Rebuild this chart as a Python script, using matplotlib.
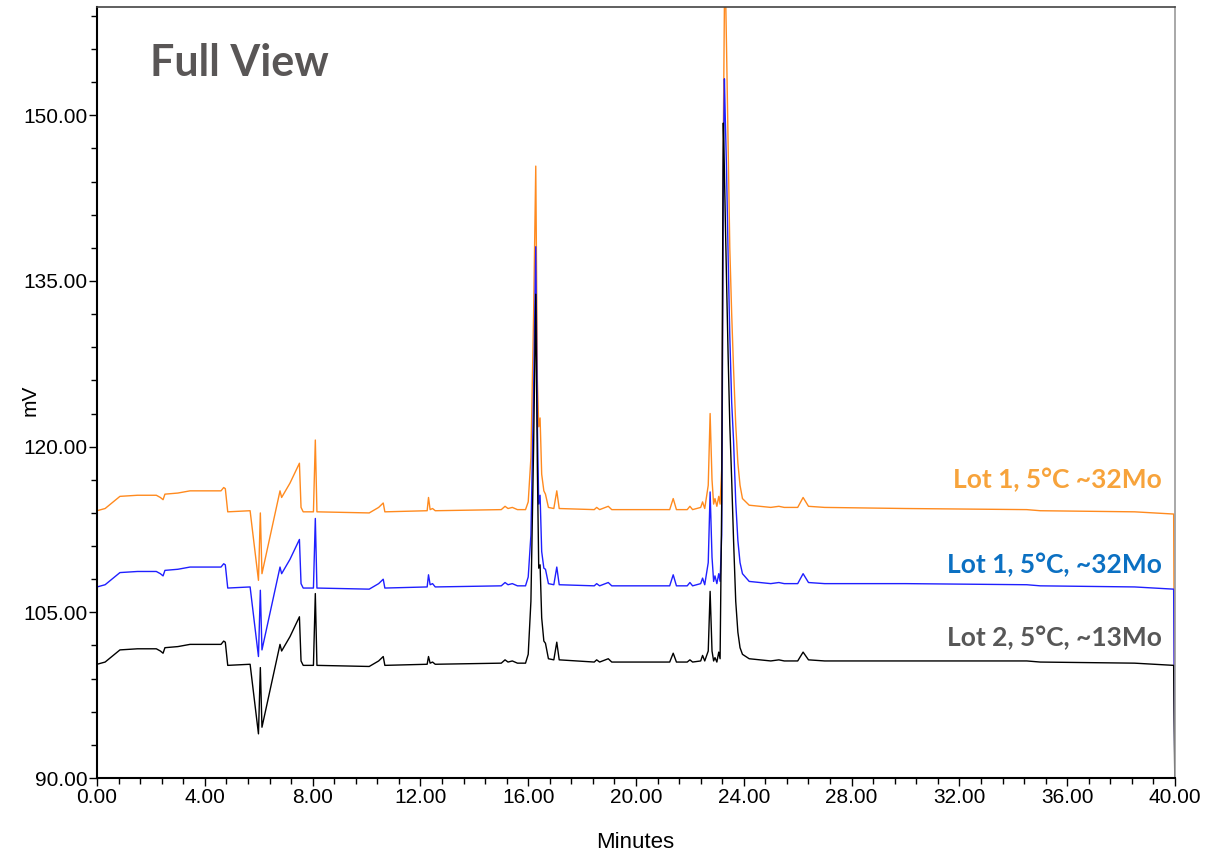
import numpy as np
import matplotlib
matplotlib.use("Agg")
import matplotlib.pyplot as plt
from matplotlib.ticker import MultipleLocator, FormatStrFormatter

# retention time (min) shared by the three traces
t = [0.00, 0.30, 0.60, 0.85, 1.50, 2.20, 2.35, 2.45, 2.52, 3.00, 3.45, 4.60, 4.70, 4.76, 4.85,
     5.68, 5.99, 6.06, 6.12, 6.79, 6.85, 7.16, 7.51, 7.57, 7.65, 8.03, 8.10, 8.16,
     10.10, 10.45, 10.62, 10.68, 12.25, 12.30, 12.36, 12.45, 12.55,
     15.00, 15.14, 15.25, 15.41, 15.60, 15.90, 16.00, 16.10, 16.20, 16.28, 16.34, 16.39, 16.44,
     16.50, 16.58, 16.64, 16.75, 16.95, 17.06, 17.15,
     18.45, 18.54, 18.65, 18.97, 19.10, 21.25, 21.38, 21.50, 21.90, 22.00, 22.10, 22.40, 22.47,
     22.55, 22.68, 22.75, 22.82, 22.88, 22.93, 23.00, 23.07, 23.12, 23.18, 23.21, 23.24, 23.28,
     23.31, 23.36, 23.42, 23.48, 23.55, 23.62, 23.70, 23.78, 23.86, 23.95, 24.20,
     25.00, 25.30, 25.50, 26.00, 26.20, 26.40, 27.00, 30.00, 34.50, 35.00, 38.50, 39.95, 40.00]

lot2_13mo = [100.3, 100.5, 101.1, 101.6, 101.7, 101.7, 101.5, 101.3, 101.8, 101.9, 102.1, 102.1, 102.4, 102.3, 100.2,
             100.3, 94.0, 100.0, 94.6, 102.1, 101.5, 102.8, 104.6, 100.6, 100.2, 100.2, 106.7, 100.2,
             100.1, 100.6, 101.0, 100.2, 100.3, 101.0, 100.4, 100.5, 100.3,
             100.4, 100.7, 100.5, 100.6, 100.4, 100.4, 101.2, 106.0, 120.0, 133.8, 118.0, 109.0, 109.3,
             104.5, 102.4, 102.2, 100.8, 100.7, 102.3, 100.7,
             100.5, 100.7, 100.5, 100.8, 100.5, 100.5, 101.3, 100.5, 100.5, 100.7, 100.5, 100.6, 101.1,
             100.6, 101.5, 106.9, 101.5, 100.6, 100.9, 100.5, 101.4, 100.8, 115.0, 135.0, 149.3, 145.0,
             141.0, 135.0, 128.0, 122.0, 117.0, 111.5, 106.0, 103.2, 101.8, 101.2, 100.8,
             100.6, 100.7, 100.6, 100.6, 101.4, 100.7, 100.6, 100.6, 100.6, 100.5, 100.4, 100.2, 88.0]

lot1_32mo_b = [107.3, 107.5, 108.1, 108.6, 108.7, 108.7, 108.5, 108.3, 108.8, 108.9, 109.1, 109.1, 109.4, 109.3, 107.2,
               107.3, 101.0, 107.0, 101.6, 109.1, 108.5, 109.8, 111.6, 107.6, 107.2, 107.2, 113.5, 107.2,
               107.1, 107.6, 108.0, 107.2, 107.3, 108.4, 107.5, 107.6, 107.3,
               107.4, 107.7, 107.5, 107.6, 107.4, 107.4, 108.2, 112.0, 125.0, 138.1, 122.0, 114.8, 115.6,
               110.5, 109.0, 108.9, 107.6, 107.5, 109.1, 107.5,
               107.4, 107.6, 107.4, 107.7, 107.4, 107.4, 108.4, 107.4, 107.4, 107.7, 107.4, 107.6, 108.1,
               107.5, 109.5, 115.9, 110.0, 107.8, 108.3, 107.6, 108.5, 107.8, 112.0, 128.0, 145.0, 153.3,
               150.0, 145.0, 137.0, 130.0, 124.0, 120.5, 115.0, 111.5, 109.5, 108.5, 107.8,
               107.6, 107.7, 107.6, 107.6, 108.5, 107.7, 107.6, 107.6, 107.5, 107.4, 107.3, 107.1, 88.0]

lot1_32mo_o = [114.2, 114.4, 115.0, 115.5, 115.6, 115.6, 115.4, 115.2, 115.7, 115.8, 116.0, 116.0, 116.3, 116.2, 114.1,
               114.2, 107.9, 114.0, 108.5, 116.0, 115.4, 116.7, 118.5, 114.5, 114.1, 114.1, 120.6, 114.1,
               114.0, 114.5, 114.9, 114.1, 114.2, 115.4, 114.3, 114.4, 114.2,
               114.3, 114.6, 114.4, 114.5, 114.3, 114.3, 115.0, 119.0, 132.0, 145.4, 126.0, 121.8, 122.6,
               117.5, 116.0, 115.7, 114.5, 114.4, 116.0, 114.4,
               114.3, 114.5, 114.3, 114.6, 114.3, 114.3, 115.3, 114.3, 114.3, 114.6, 114.3, 114.5, 115.0,
               114.4, 116.5, 123.0, 117.0, 114.8, 115.3, 114.6, 115.5, 114.8, 118.0, 130.0, 148.0, 160.0,
               163.0, 156.0, 147.0, 138.0, 132.0, 127.0, 122.0, 118.5, 116.5, 115.3, 114.7,
               114.5, 114.6, 114.5, 114.5, 115.4, 114.6, 114.5, 114.4, 114.3, 114.2, 114.1, 113.9, 88.0]

labels = ["Lot 1, 5°C ~32Mo", "Lot 1, 5°C, ~32Mo", "Lot 2, 5°C, ~13Mo"]
label_y = [117.0, 109.3, 102.7]
line_colors = ["#FF8A1E", "#1F1FFF", "#000000"]
text_colors = ["#F7A33B", "#0B70C2", "#575757"]

arial = ["Liberation Sans", "DejaVu Sans"]

fig = plt.figure(figsize=(12.19, 8.58), dpi=100)
ax = fig.add_axes([0.0796, 0.0932, 0.8843, 0.8986])

series = [lot1_32mo_o, lot1_32mo_b, lot2_13mo]
for vals, col in zip(series, line_colors):
    ax.plot(t, vals, color=col, lw=1.0)

ax.set_xlim(0, 40)
ax.set_ylim(90, 159.8)

ax.xaxis.set_major_locator(MultipleLocator(4))
ax.xaxis.set_minor_locator(MultipleLocator(0.8))
ax.yaxis.set_major_locator(MultipleLocator(15))
ax.yaxis.set_minor_locator(MultipleLocator(3))
ax.xaxis.set_major_formatter(FormatStrFormatter("%.2f"))
ax.yaxis.set_major_formatter(FormatStrFormatter("%.2f"))

ax.tick_params(axis="both", which="major", direction="out", length=6, width=1, pad=1,
               labelsize=15, colors="black")
ax.tick_params(axis="both", which="minor", direction="out", length=4, width=1)
for lab in ax.get_xticklabels() + ax.get_yticklabels():
    lab.set_family(arial)

for s in ["left", "bottom"]:
    ax.spines[s].set_linewidth(1.5)
    ax.spines[s].set_color("black")
ax.spines["top"].set_color("#444444")
ax.spines["top"].set_linewidth(1.2)
ax.spines["right"].set_color("#999999")
ax.spines["right"].set_linewidth(1.2)

fig.text(635 / 1219, 1 - 843 / 858, "Minutes", family=arial, fontsize=16,
         ha="center", va="center")
fig.text(30 / 1219, 1 - 400 / 858, "mV", family=arial, fontsize=15, rotation=90,
         ha="center", va="center")

ax.text(0.0496, 0.927, "Full View", transform=ax.transAxes, family=["Lato", "DejaVu Sans"],
        fontweight="bold", fontsize=31, color="#595656", ha="left", va="center")

for lab, yv, col in zip(labels, label_y, text_colors):
    ax.text(39.52, yv, lab, family=["Lato", "DejaVu Sans"], fontweight="bold", fontsize=19,
            color=col, ha="right", va="center")

fig.savefig("out.png", dpi=100)
